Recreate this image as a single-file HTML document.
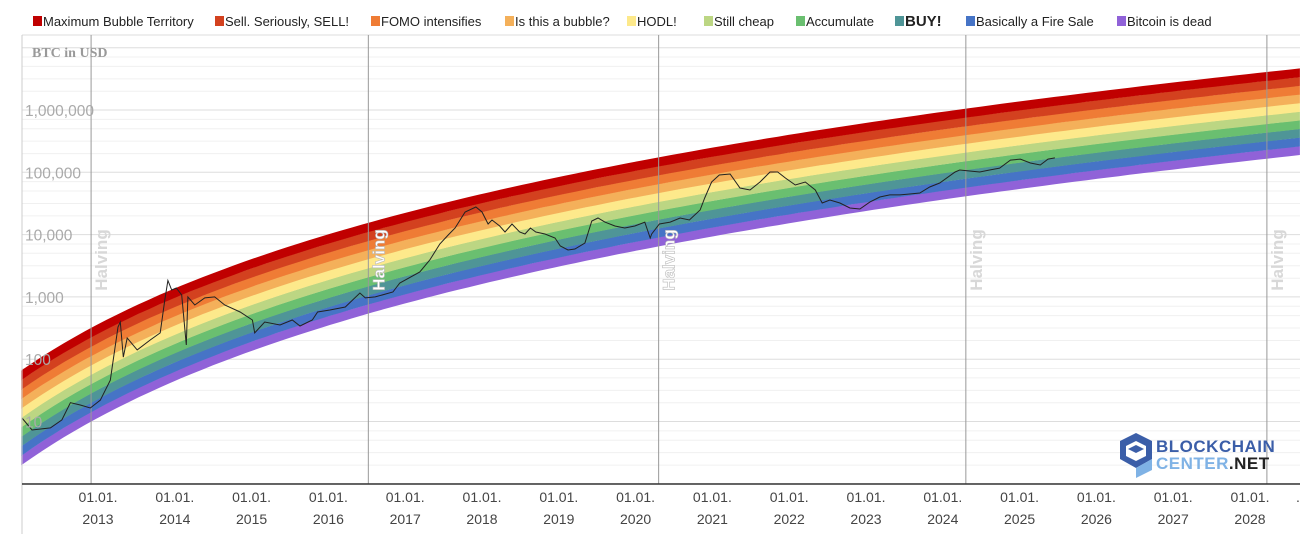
<!DOCTYPE html>
<html><head><meta charset="utf-8"><style>
html,body{margin:0;padding:0;background:#fff;width:1305px;height:534px;overflow:hidden;font-family:"Liberation Sans",Arial,sans-serif}
</style></head><body>
<svg id="chart" width="1305" height="534" xmlns="http://www.w3.org/2000/svg" style="display:block">
<g id="grid"></g>
<g id="bands"></g>
<g id="halvings"></g>
<g id="price"></g>
<g id="axes"></g>
<g id="legend"></g>
<text x="32" y="57" font-family="Liberation Serif,serif" font-weight="bold" font-size="14" fill="#999">BTC in USD</text>
<g>
  <polygon points="1136,433 1152,441 1152,459 1136,468 1120,459 1120,441" fill="#3b5ea8"/>
  <polygon points="1136,441 1146,446 1146,456 1136,461 1126,456 1126,446" fill="#fff"/>
  <polygon points="1128,449 1136,445 1144,449 1136,453" fill="#3b5ea8"/>
  <polygon points="1136,468 1152,459 1152,470 1136,478" fill="#7fb2e5"/>
  <text x="1156" y="452" font-size="17" font-weight="bold" fill="#3b5ea8" letter-spacing="0.5">BLOCKCHAIN</text>
  <text x="1156" y="469" font-size="17" font-weight="bold" fill="#7fb2e5" letter-spacing="0.5">CENTER<tspan fill="#222">.NET</tspan></text>
</g>
</svg>
<script>
const years = [2012.01,2012.14,2012.38,2012.53,2012.64,2012.77,2012.90,2013.03,2013.16,2013.26,2013.29,2013.33,2013.38,2013.51,2013.68,2013.81,2013.87,2013.91,2013.96,2014.02,2014.09,2014.15,2014.17,2014.26,2014.39,2014.52,2014.65,2014.85,2015.01,2015.04,2015.17,2015.37,2015.53,2015.63,2015.79,2015.86,2016.02,2016.22,2016.41,2016.48,2016.61,2016.84,2016.93,2017.19,2017.32,2017.45,2017.56,2017.65,2017.78,2017.92,2018.00,2018.08,2018.13,2018.23,2018.30,2018.39,2018.49,2018.56,2018.63,2018.70,2018.82,2018.95,2019.02,2019.12,2019.21,2019.34,2019.43,2019.51,2019.60,2019.73,2019.86,2019.99,2020.12,2020.19,2020.21,2020.31,2020.45,2020.58,2020.70,2020.84,2020.90,2020.99,2021.09,2021.23,2021.36,2021.49,2021.62,2021.75,2021.85,2021.95,2022.08,2022.21,2022.34,2022.43,2022.53,2022.66,2022.79,2022.92,2023.05,2023.18,2023.31,2023.44,2023.57,2023.70,2023.83,2023.96,2024.16,2024.22,2024.35,2024.48,2024.61,2024.74,2024.88,2025.01,2025.14,2025.27,2025.37,2025.46];
const prices = [11.4,7.3,7.9,10.6,20,18.4,16.5,22,46,329,396,108,219,141,203,264,895,1830,1290,1390,1075,169,1000,741,963,1000,741,573,426,264,396,354,426,341,426,573,617,689,1156,963,1000,1200,1670,2512,3910,7060,9860,12770,23050,27700,23050,14800,17130,13740,11000,14800,11000,10230,12770,11000,10230,8820,6560,5660,5870,7330,16520,18450,15900,13740,12770,13740,15900,8820,10230,14800,15900,18450,17130,24800,38700,69800,90500,94000,56000,52000,69800,101000,101000,81000,62500,69800,52000,32100,35900,32100,26700,25800,33300,40200,43300,43300,44900,46600,58100,67300,101000,109000,105000,101000,109000,117000,157000,163000,141000,131000,163000,170000];
const yTickValues = [10,100,1000,10000,100000,1000000];
const yTickLabels = ["10","100","1,000","10,000","100,000","1,000,000"];
const xTickYears = [2013,2014,2015,2016,2017,2018,2019,2020,2021,2022,2023,2024,2025,2026,2027,2028];
const halvingYears = [2012.91,2016.52,2020.30,2024.30,2028.22];
const bandColors = ["#9062d8","#4674c6","#4f9597","#6abf70","#bcd683","#fde98b","#f4b05a","#ef7c35","#d3411f","#c00000"];
const bandNames = ["Bitcoin is dead","Basically a Fire Sale","BUY!","Accumulate","Still cheap","HODL!","Is this a bubble?","FOMO intensifies","Sell. Seriously, SELL!","Maximum Bubble Territory"];

const NS="http://www.w3.org/2000/svg";
const L=22,R=1300,T=35,B=484;
function xS(y){return 98+(y-2013)*76.8;}
function yS(v){return 110+(6-Math.log10(v))*62.3;}
function yL(l){return 110+(6-l)*62.3;}
function mk(tag,attrs,parent){const e=document.createElementNS(NS,tag);for(const k in attrs)e.setAttribute(k,attrs[k]);parent.appendChild(e);return e;}
function bottomLog(t){return 2.65*Math.log(t-2009)-2.615;}
function topLog(t){return 2.58*Math.log(t-2009)-1.02;}

const grid=document.getElementById('grid');
for(let d=0;d<=7;d++){
  const y=yL(d); if(y>T&&y<B){const g=mk('line',{x1:L,x2:R,y1:y,y2:y,stroke:'#ddd','stroke-width':1},grid);}
  [0.3,0.5,0.7,0.85].forEach(m=>{const ym=yL(d+m);if(ym>T&&ym<B){const g=mk('line',{x1:L,x2:R,y1:ym,y2:ym,stroke:'#f0f0f0','stroke-width':1},grid);}});
}
mk('line',{x1:L,x2:R,y1:T,y2:T,stroke:'#ddd'},grid);

const bands=document.getElementById('bands');
const t0=2012.0,t1=2028.65,N=120;
for(let i=0;i<10;i++){
  let top=[],bot=[];
  for(let k=0;k<=N;k++){const t=t0+(t1-t0)*k/N;const lo=bottomLog(t),hi=topLog(t);const w=(hi-lo)/10;
    bot.push([xS(t),yL(lo+w*i)]);top.push([xS(t),yL(lo+w*(i+1)+0.004)]);}
  const pts=top.concat(bot.reverse()).map(p=>p[0].toFixed(1)+','+p[1].toFixed(1)).join(' ');
  const p=mk('polygon',{points:pts,fill:bandColors[i]},bands);
  
  
}

const hv=document.getElementById('halvings');
halvingYears.forEach((h,i)=>{
  const x=xS(h);
  const l=mk('line',{x1:x,x2:x,y1:T,y2:B,stroke:'#999','stroke-width':1},hv);
  
  
  const onBand=(i==1||i==2);
  const tx=mk('text',{x:0,y:0,transform:`translate(${x+16},260) rotate(-90)`,'text-anchor':'middle','font-size':'17','font-weight':'bold',fill:onBand?'#fff':'#d8d8d8',stroke:onBand?'#bbb':'none','stroke-width':onBand?0.6:0},hv);
  tx.textContent='Halving';
  
  
});

const pr=document.getElementById('price');
const d=years.map((y,i)=>(i?'L':'M')+xS(y).toFixed(1)+','+yS(prices[i]).toFixed(1)).join(' ');
const pl=mk('path',{d:d,fill:'none',stroke:'#222','stroke-width':1},pr);



const ax=document.getElementById('axes');
mk('line',{x1:L,x2:L,y1:T,y2:534,stroke:'#ccc'},ax);
mk('line',{x1:L,x2:R,y1:B,y2:B,stroke:'#333','stroke-width':1.5},ax);
yTickValues.forEach((v,i)=>{
  const t=mk('text',{x:25,y:yS(v)+6,'font-size':'15.5',fill:'#aaa'},ax);
  t.textContent=yTickLabels[i];
  
  
});
xTickYears.forEach(yr=>{
  const x=xS(yr);
  const a=mk('text',{x:x,y:502,'text-anchor':'middle','font-size':'14',fill:'#444'},ax);
  a.textContent='01.01.';
  
  
  const b=mk('text',{x:x,y:524,'text-anchor':'middle','font-size':'14',fill:'#444'},ax);
  b.textContent=String(yr);
  
  
});
const dot=mk('text',{x:1296,y:502,'font-size':'14',fill:'#444'},ax);dot.textContent='.';

const lg=document.getElementById('legend');
const legX=[33,215,371,505,627,704,796,895,966,1117];
for(let i=0;i<10;i++){
  const ci=9-i;
  const g=mk('g',{},lg);
  
  
  mk('rect',{x:legX[i],y:16,width:9,height:10,fill:bandColors[ci]},g);
  const isBuy=bandNames[ci]==='BUY!';
  const t=mk('text',{x:legX[i]+10,y:26,'font-size':isBuy?15:13,'font-weight':isBuy?'bold':'normal',fill:'#222'},g);
  t.textContent=bandNames[ci];
}
</script>
</body></html>
